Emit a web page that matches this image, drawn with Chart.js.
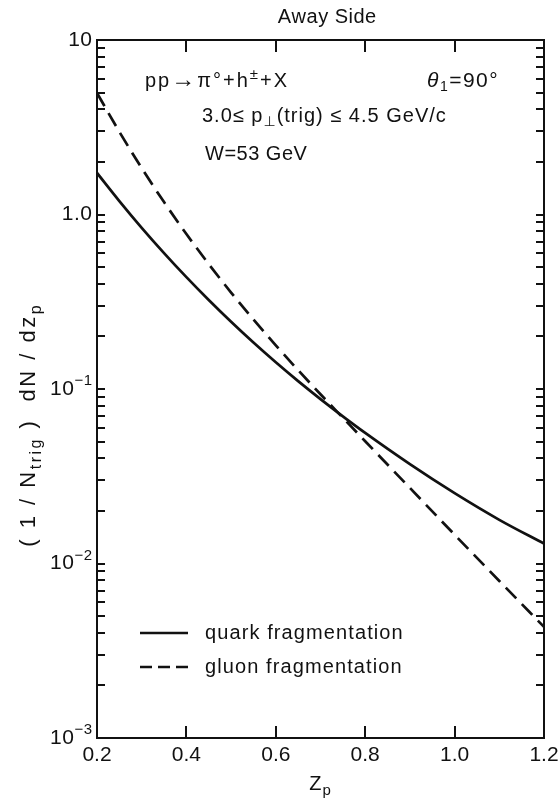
<!DOCTYPE html>
<html>
<head>
<meta charset="utf-8">
<script src="https://cdn.jsdelivr.net/npm/chart.js@4.4.1/dist/chart.umd.min.js"></script>
<style>
  html, body { margin: 0; padding: 0; background: #fff; }
  canvas { display: block; }
</style>
</head>
<body>
<canvas id="awayChart" width="560" height="799"></canvas>
<script>
// values
const zp = [0.2, 0.25, 0.3, 0.35, 0.4, 0.45, 0.5, 0.55, 0.6, 0.65, 0.7, 0.75, 0.8, 0.9, 1.0, 1.1, 1.2];
const quarkFrag = [1.73, 1.194, 0.839, 0.601, 0.4375, 0.3236, 0.2427, 0.1845, 0.1422, 0.1109, 0.0875, 0.0697, 0.0560, 0.0371, 0.0253, 0.0178, 0.0130];
const gluonFrag = [4.97, 2.979, 1.845, 1.178, 0.773, 0.520, 0.357, 0.250, 0.1778, 0.1282, 0.0933, 0.0684, 0.0502, 0.0271, 0.01462, 0.00794, 0.00433];
const seriesLabels = ['quark fragmentation', 'gluon fragmentation'];

const xMajor = [0.4, 0.6, 0.8, 1.0];
const yDecades = [10, 1, 0.1, 0.01, 0.001];
const yDecadeBase = ['10', '1.0', '10', '10', '10'];
const yDecadeExp = ['', '', '\u22121', '\u22122', '\u22123'];

const FONT = '"Liberation Sans", "DejaVu Sans", sans-serif';
const INK = '#111';

function fontOf(r) {
  return (r.italic ? 'italic ' : '') + r.size + 'px ' + FONT;
}
function runsWidth(ctx, runs, sp) {
  let w = 0;
  runs.forEach(r => {
    ctx.font = fontOf(r);
    for (const ch of r.t) w += ctx.measureText(ch).width + sp;
  });
  return w - sp;
}
function drawRuns(ctx, x, y, runs, sp) {
  let cx = x;
  runs.forEach(r => {
    ctx.font = fontOf(r);
    for (const ch of r.t) {
      ctx.fillText(ch, cx, y + (r.dy || 0));
      cx += ctx.measureText(ch).width + sp;
    }
  });
  return cx;
}

const framePlugin = {
  id: 'frame',
  afterDraw(chart) {
    const ctx = chart.ctx;
    const a = chart.chartArea;
    const xs = chart.scales.x, ys = chart.scales.y;
    ctx.save();
    ctx.strokeStyle = INK;
    ctx.fillStyle = INK;
    ctx.lineWidth = 2;
    ctx.strokeRect(a.left, a.top, a.right - a.left, a.bottom - a.top);

    // inward ticks
    ctx.beginPath();
    xMajor.forEach(v => {
      const px = Math.round(xs.getPixelForValue(v));
      ctx.moveTo(px, a.bottom); ctx.lineTo(px, a.bottom - 12);
      ctx.moveTo(px, a.top); ctx.lineTo(px, a.top + 12);
    });
    for (let e = -3; e < 1; e++) {
      for (let m = 1; m < 10; m++) {
        const v = m * Math.pow(10, e);
        const py = Math.round(ys.getPixelForValue(v));
        if (py >= a.bottom - 1 || py <= a.top + 1) continue;
        ctx.moveTo(a.left, py); ctx.lineTo(a.left + 8, py);
        ctx.moveTo(a.right, py); ctx.lineTo(a.right - 8, py);
      }
    }
    ctx.stroke();

    // y decade labels
    ctx.textBaseline = 'middle';
    ctx.textAlign = 'left';
    yDecades.forEach((v, i) => {
      const py = ys.getPixelForValue(v);
      const runs = [{ t: yDecadeBase[i], size: 21 }];
      if (yDecadeExp[i]) runs.push({ t: yDecadeExp[i], size: 15, dy: -8 });
      const w = runsWidth(ctx, runs, 0.5);
      drawRuns(ctx, a.left - 5 - w, py, runs, 0.5);
    });

    // titles
    ctx.textBaseline = 'alphabetic';
    const title = [{ t: 'Away Side', size: 20 }];
    drawRuns(ctx, 327 - runsWidth(ctx, title, 0.5) / 2, 23, title, 0.5);

    const xTitle = [{ t: 'Z', size: 20 }, { t: 'p', size: 15, dy: 5 }];
    drawRuns(ctx, 320 - runsWidth(ctx, xTitle, 1) / 2, 790, xTitle, 1);

    const yTitle = [
      { t: '( 1 / N', size: 22 }, { t: 'trig', size: 16, dy: 6 },
      { t: ' )  dN / dz', size: 22 }, { t: 'p', size: 16, dy: 6 }
    ];
    const yw = runsWidth(ctx, yTitle, 2.5);
    ctx.save();
    ctx.translate(35, 426 + yw / 2);
    ctx.rotate(-Math.PI / 2);
    drawRuns(ctx, 0, 0, yTitle, 2.5);
    ctx.restore();

    // notes inside the frame
    drawRuns(ctx, 145, 87, [
      { t: 'pp', size: 20 }, { t: '\u2192', size: 24 }, { t: '\u03c0\u00b0+h', size: 20 },
      { t: '\u00b1', size: 15, dy: -8 }, { t: '+X', size: 20 }
    ], 2);
    drawRuns(ctx, 427, 87, [
      { t: '\u03b8', size: 21, italic: true }, { t: '1', size: 14, dy: 4 }, { t: '=90\u00b0', size: 21 }
    ], 1.5);
    drawRuns(ctx, 202, 122, [
      { t: '3.0\u2264 p', size: 20 }, { t: '\u22a5', size: 14, dy: 4 }, { t: '(trig) \u2264 4.5 GeV/c', size: 20 }
    ], 1);
    drawRuns(ctx, 205, 160, [{ t: 'W=53 GeV', size: 20 }], 0.5);

    // legend
    const rowsY = [633, 667];
    chart.data.datasets.forEach((ds, i) => {
      ctx.beginPath();
      ctx.lineWidth = ds.borderWidth;
      ctx.setLineDash(ds.borderDash ? [12, 6] : []);
      ctx.moveTo(140, rowsY[i]); ctx.lineTo(188, rowsY[i]);
      ctx.stroke();
      ctx.setLineDash([]);
      ctx.textBaseline = 'middle';
      drawRuns(ctx, 205, rowsY[i], [{ t: ds.label, size: 20 }], 1.1);
    });
    ctx.restore();
  }
};

new Chart(document.getElementById('awayChart'), {
  type: 'line',
  data: {
    datasets: [
      {
        label: seriesLabels[0],
        data: zp.map((x, i) => ({ x: x, y: quarkFrag[i] })),
        borderColor: INK,
        borderWidth: 2.7,
        pointRadius: 0,
        cubicInterpolationMode: 'monotone',
        fill: false
      },
      {
        label: seriesLabels[1],
        data: zp.map((x, i) => ({ x: x, y: gluonFrag[i] })),
        borderColor: INK,
        borderWidth: 2.7,
        borderDash: [15, 8],
        pointRadius: 0,
        cubicInterpolationMode: 'monotone',
        fill: false
      }
    ]
  },
  options: {
    responsive: false,
    animation: false,
    devicePixelRatio: 1,
    layout: { padding: { top: 40, right: 16, bottom: 0, left: 0 } },
    plugins: { legend: { display: false }, title: { display: false }, tooltip: { enabled: false } },
    scales: {
      x: {
        type: 'linear',
        min: 0.2,
        max: 1.2,
        grid: { display: false, drawTicks: false },
        border: { display: false },
        ticks: {
          stepSize: 0.2,
          padding: 5,
          color: INK,
          font: { family: FONT, size: 21 },
          maxRotation: 0,
          callback: v => Number(v).toFixed(1)
        },
        afterFit: s => { s.height = 61; s.paddingLeft = 0; s.paddingRight = 0; }
      },
      y: {
        type: 'logarithmic',
        min: 0.001,
        max: 10,
        grid: { display: false, drawTicks: false },
        border: { display: false },
        ticks: { display: false },
        afterFit: s => { s.width = 97; }
      }
    }
  },
  plugins: [framePlugin]
});
</script>
</body>
</html>
